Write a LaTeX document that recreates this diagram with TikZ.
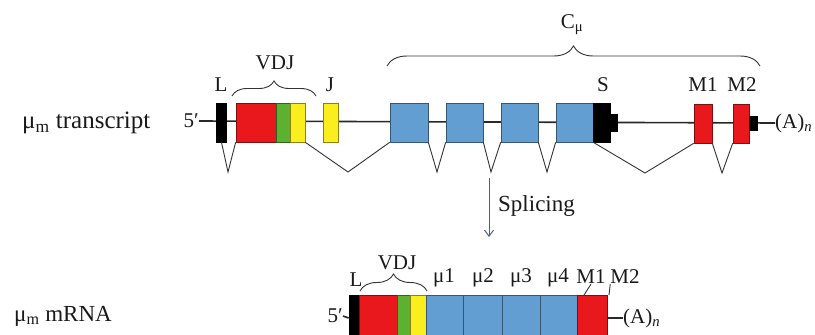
\documentclass[tikz,border=0pt]{standalone}
\usepackage{fontspec}
\setmainfont{Liberation Serif}
\usetikzlibrary{decorations.pathreplacing,arrows.meta}
\definecolor{exred}{RGB}{232,24,28}
\definecolor{exgreen}{RGB}{92,178,48}
\definecolor{exyellow}{RGB}{250,238,30}
\definecolor{exblue}{RGB}{98,158,210}
\definecolor{exline}{RGB}{40,40,40}
\definecolor{arrowblue}{RGB}{70,95,150}
\begin{document}
\begin{tikzpicture}[x=1pt,y=-1pt,
  lbl/.style={font=\fontsize{21}{24}\selectfont, inner sep=0pt, text=black!90},
  biglbl/.style={font=\fontsize{#1}{26}\selectfont, inner sep=0pt, text=black!90},
  ex/.style={draw=#1!55!black, line width=0.7pt, fill=#1, inner sep=0pt, minimum height=39pt},
  mex/.style={draw=#1!55!black, line width=0.7pt, fill=#1, inner sep=0pt, minimum height=46pt},
  strand/.style={exline, line width=1.6pt},
  splice/.style={black!80, line width=0.9pt},
  bracepath/.style={black!80, line width=0.9pt, decorate, decoration={brace, amplitude=#1}}
]
\useasboundingbox (0,0) rectangle (815,335);
\clip (0,0) rectangle (815,335);

% ---------- primary transcript ----------
\node[biglbl=25, anchor=west] (tlab) at (22,123) {μ\textsubscript{m} transcript};
\node[lbl, anchor=east] (t5) at (199,121) {5′};
\node[lbl, anchor=west] (tA) at (775,123) {(A)\textsubscript{\itshape n}};
\draw[strand] (t5.east) -- (tA.west);

\node[ex=black, minimum width=10pt] (tL) at (221.5,122.5) {};
\node[ex=exred, minimum width=40pt] (tV) at (256,122.5) {};
\node[ex=exgreen, minimum width=14pt] (tD) at (283,122.5) {};
\node[ex=exyellow, minimum width=15pt] (tJ1) at (297.5,122.5) {};
\node[ex=exyellow, minimum width=15pt] (tJ) at (330.5,122.5) {};
\node[ex=exblue, minimum width=38pt] (tC1) at (409,122.5) {};
\node[ex=exblue, minimum width=37pt] (tC2) at (464.5,122.5) {};
\node[ex=exblue, minimum width=37pt] (tC3) at (519.5,122.5) {};
\node[ex=exblue, minimum width=37pt] (tC4) at (574.5,122.5) {};
\node[ex=black, minimum width=17pt] (tS) at (601.5,122.5) {};
\node[ex=black, minimum width=8pt, minimum height=17pt] (tSt) at (613.5,123) {};
\node[ex=exred, minimum width=18pt] (tM1) at (703,123.5) {};
\node[ex=exred, minimum width=16pt] (tM2) at (741,123.5) {};
\node[ex=black, minimum width=8pt, minimum height=14pt] (tM2t) at (753,123) {};

% splice lines
\coordinate (v1) at (228,172);
\coordinate (v2) at (348,172);
\coordinate (v3) at (437,172);
\coordinate (v4) at (491,172);
\coordinate (v5) at (547,172);
\coordinate (v6) at (645,173);
\coordinate (v7) at (722,173);
\draw[splice] (tL.south) -- (v1) -- (tV.south west);
\draw[splice] (tJ1.south east) -- (v2) -- (tC1.south west);
\draw[splice] (tC1.south east) -- (v3) -- (tC2.south west);
\draw[splice] (tC2.south east) -- (v4) -- (tC3.south west);
\draw[splice] (tC3.south east) -- (v5) -- (tC4.south west);
\draw[splice] (tC4.south east) -- (v6) -- (tM1.south west);
\draw[splice] (tM1.south east) -- (v7) -- (tM2.south west);

% labels
\node[lbl] (lL) at (221,85) {L};
\node[lbl] (lVDJ) at (275,63) {VDJ};
\node[lbl] (lJ) at (330,85) {J};
\node[lbl] (lS) at (603,85) {S};
\node[lbl] (lM1) at (703,85) {M1};
\node[lbl] (lM2) at (742,85) {M2};
\node[lbl] (lC) at (572,25) {C\textsubscript{μ}};

\coordinate (bvA) at (232,96);
\coordinate (bvB) at (316,96);
\draw[bracepath=15pt] (bvA) -- (bvB);
\coordinate (bcA) at (387,66);
\coordinate (bcB) at (760,66);
\draw[bracepath=20pt] (bcA) -- (bcB);

% ---------- splicing arrow ----------
\coordinate (arT) at (489,178);
\coordinate (arB) at (489,237);
\draw[arrowblue, line width=1pt, -{Straight Barb[length=6pt,width=9pt]}] (arT) -- (arB);
\node[biglbl=23, anchor=west] (spl) at (498,206) {Splicing};

% ---------- mRNA ----------
\node[biglbl=23, anchor=west] (mlab) at (14,316) {μ\textsubscript{m} mRNA};
\node[lbl, anchor=east] (m5) at (343,316) {5′};
\node[lbl, anchor=west] (mA) at (623,318) {(A)\textsubscript{\itshape n}};

\node[mex=black, minimum width=10pt] (mL) at (354,318) {};
\node[mex=exred, minimum width=38pt] (mV) at (378,318) {};
\node[mex=exgreen, minimum width=13pt] (mD) at (403.5,318) {};
\node[mex=exyellow, minimum width=16pt] (mJ) at (418,318) {};
\node[mex=exblue, minimum width=37pt] (mC1) at (444.5,318) {};
\node[mex=exblue, minimum width=39pt] (mC2) at (482.5,318) {};
\node[mex=exblue, minimum width=38pt] (mC3) at (521,318) {};
\node[mex=exblue, minimum width=37pt] (mC4) at (558.5,318) {};
\node[mex=exred, minimum width=30pt] (mM) at (592,318) {};
\draw[strand] (m5.east) -- (mL.west);
\draw[strand] (mM.east) -- (mA.west);

\node[lbl] (mlL) at (356,280) {L};
\node[lbl] (mlVDJ) at (397,263) {VDJ};
\node[lbl] (ml1) at (444,278) {μ1};
\node[lbl] (ml2) at (483,278) {μ2};
\node[lbl] (ml3) at (521,278) {μ3};
\node[lbl] (ml4) at (558,278) {μ4};
\node[lbl] (mlM1) at (591,277) {M1};
\node[lbl] (mlM2) at (625,277) {M2};
\coordinate (mk1) at (584,295);
\coordinate (mk2) at (609,295);
\draw[splice] (mlM1.south) -- (mk1);
\draw[splice] (mlM2.south west) -- (mk2);

\coordinate (bmA) at (360,291);
\coordinate (bmB) at (427,291);
\draw[bracepath=17pt] (bmA) -- (bmB);
\end{tikzpicture}
\end{document}
